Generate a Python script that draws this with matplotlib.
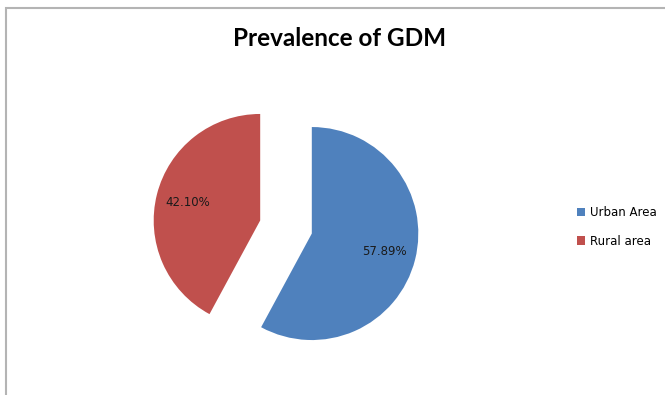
import matplotlib.pyplot as plt
from matplotlib.patches import Rectangle

categories = ["Urban Area", "Rural area"]
shares = [57.89, 42.10]
colors = ["#4F81BD", "#C0504D"]

W, H = 665, 395
fig = plt.figure(figsize=(W / 100, H / 100), dpi=100)

# light grey chart border, clipped by the right and bottom edges
fig.patches.append(Rectangle((6 / W, -0.05), 1.1, (H - 8) / H + 0.05,
                             transform=fig.transFigure, fill=False,
                             edgecolor="#b4b4b4", linewidth=1.5))

# pie axes: centre at (286, 227) px, radius 106.5 px
r = 106.5
cx, cy = 286, H - 227
span = 1.5 * r
ax = fig.add_axes([(cx - span) / W, (cy - span) / H, 2 * span / W, 2 * span / H])

pct_labels = iter(f"{v:.2f}%" for v in shares)
wedges, _, autotexts = ax.pie(
    shares, colors=colors, startangle=90, counterclock=False,
    explode=[0.25, 0.25], autopct=lambda p: next(pct_labels),
    pctdistance=0.7, textprops={"fontsize": 8.5, "color": "#1a1a1a"},
)
ax.set_xlim(-1.5, 1.5)
ax.set_ylim(-1.5, 1.5)
ax.set_aspect("auto")
ax.axis("off")

fig.text(340 / W, 1 - 38 / H, "Prevalence of GDM", ha="center", va="center",
         fontsize=17.5, fontweight="bold", family="Lato")

fig.legend(wedges, categories, loc="center left",
           bbox_to_anchor=(566 / W, 1 - 227 / H), frameon=False,
           fontsize=8.5, handlelength=0.7, handleheight=0.7,
           handletextpad=0.4, labelspacing=1.3)

fig.savefig("out.png", dpi=100)
